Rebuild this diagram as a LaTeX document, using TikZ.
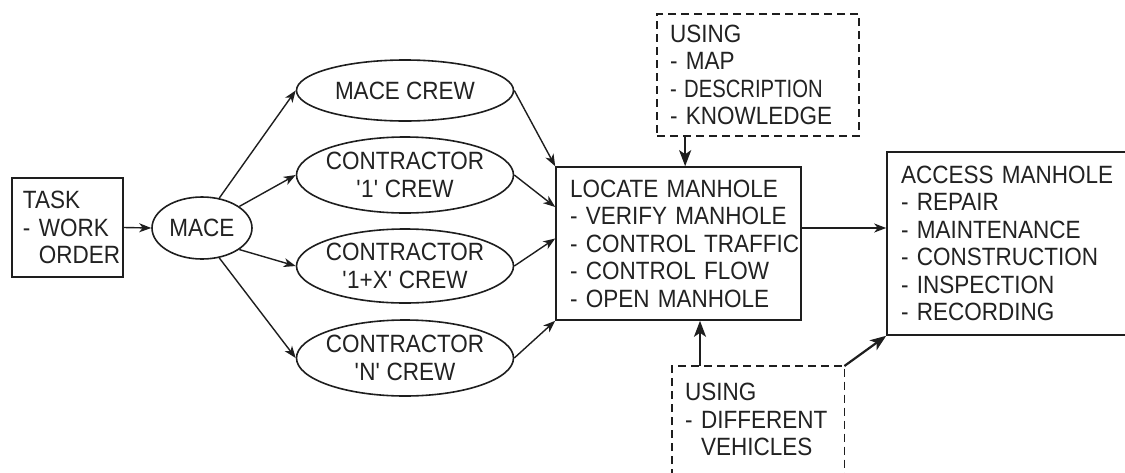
\documentclass[tikz,border=0pt]{standalone}
\usepackage{fontspec}
\setmainfont{Liberation Sans}[FakeStretch=0.9]
\usetikzlibrary{arrows.meta,shapes.geometric}
\uchyph=0
\hyphenpenalty=10000
\exhyphenpenalty=10000
\definecolor{ink}{HTML}{1E1E1E}
\definecolor{txt}{HTML}{222222}
\newcommand\sq{\textquotesingle}
\begin{document}
\begin{tikzpicture}[x=1pt,y=-1pt,
  every node/.style={font=\fontsize{25}{27.5}\selectfont, text=txt},
  box/.style={draw=ink, line width=1.6pt, rectangle, inner ysep=0pt, align=left},
  oval/.style={draw=ink, line width=1.6pt, ellipse, inner xsep=-10pt, inner ysep=0pt, align=center},
  notebox/.style={draw=ink, line width=1.7pt, dash pattern=on 8pt off 5pt},
  link/.style={draw=ink, line width=1.4pt, -{Stealth[length=12pt,width=9pt,inset=3.5pt]}},
  heavy/.style={draw=ink, line width=2.2pt, -{Stealth[length=16pt,width=12pt,inset=4pt]}},
]
\path[use as bounding box, clip] (0,0) rectangle (1125,472);
\fill[white] (0,0) rectangle (1125,472);

% work order and dispatcher
\node[box, inner xsep=11pt, text width=89pt, minimum height=99pt] (task) at (67.5,227.5)
  {TASK\\-~WORK\\\hphantom{-~}ORDER};
\node[oval, minimum width=100pt, minimum height=62pt] (mace) at (202,228) {MACE};

% crews
\node[oval, minimum width=217pt, minimum height=61pt] (mcrew) at (405,90.5) {MACE~CREW};
\node[oval, minimum width=217pt, minimum height=76pt] (c1) at (405,175) {CONTRACTOR\\\sq1\sq~CREW};
\node[oval, minimum width=217pt, minimum height=74pt] (c1x) at (405,266) {CONTRACTOR\\\sq1+X\sq~CREW};
\node[oval, minimum width=217pt, minimum height=76pt] (cn) at (405,358) {CONTRACTOR\\\sq N\sq~CREW};

% locating and accessing the manhole
\node[box, inner xsep=14pt, text width=217pt, minimum height=153pt] (locate) at (678.5,243.5)
  {LOCATE~MANHOLE\\-~VERIFY~MANHOLE\\-~CONTROL~TRAFFIC\\-~CONTROL~FLOW\\-~OPEN~MANHOLE};
\node[box, inner xsep=14pt, text width=230pt, minimum height=183pt] (access) at (1016,243.5)
  {ACCESS~MANHOLE\\-~REPAIR\\-~MAINTENANCE\\-~CONSTRUCTION\\-~INSPECTION\\-~RECORDING};

% supporting resources
\node[notebox, rectangle, inner xsep=13pt, inner ysep=0pt, text width=176pt, minimum height=122pt, align=left] (using1) at (758,75)
  {USING\\-~MAP\\\scalebox{0.9}[1]{-~DESCRIPTION}\\-~KNOWLEDGE};
\node[rectangle, anchor=north west, inner xsep=13pt, inner ysep=17pt, text width=146pt, align=left] (using2) at (672,366)
  {USING\\-~DIFFERENT\\\hphantom{-~}VEHICLES};
\coordinate (below) at (0,490);
\draw[notebox] (using2.north west |- below) -- (using2.north west) -- (using2.north east) -- (using2.north east |- below);

% flow
\draw[link] (task.east) -- (mace.west);
\draw[link] (mace.60) -- (mcrew.west);
\draw[link] (mace.30) -- (c1.west);
\draw[link] (mace.-30) -- (c1x.west);
\draw[link] (mace.-60) -- (cn.west);
\draw[link] (mcrew.east) -- (locate.north west);
\draw[link] (c1.east) -- ([yshift=36.5pt]locate.west);
\draw[link] (c1x.east) -- ([yshift=5pt]locate.west);
\draw[link] (cn.east) -- (locate.south west);
\draw[link] ([yshift=15.5pt]locate.east) -- ([yshift=15.5pt]locate.east -| access.west);
\draw[heavy] ([xshift=29pt]using1.south west) -- ([xshift=29pt]using1.south west |- locate.north);
\draw[heavy] ([xshift=28pt]using2.north west) -- ([xshift=28pt]using2.north west |- locate.south);
\draw[heavy] (using2.north east) -- (access.south west);
\end{tikzpicture}
\end{document}
